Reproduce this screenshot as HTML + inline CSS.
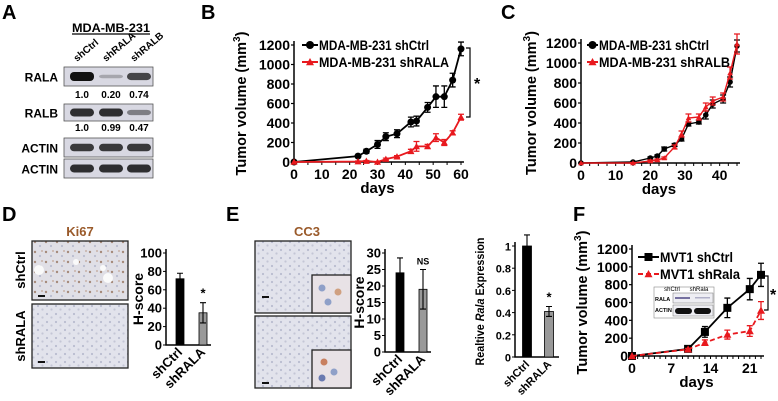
<!DOCTYPE html>
<html><head><meta charset="utf-8"><style>
body{margin:0;background:#fff}
svg{display:block;font-family:"Liberation Sans",Arial,sans-serif}
</style></head><body>
<svg id="fig" width="778" height="401" viewBox="0 0 778 401" xmlns="http://www.w3.org/2000/svg">
<defs>
<pattern id="tissue" width="9" height="8" patternUnits="userSpaceOnUse">
<rect width="9" height="8" fill="#e2e3ec"/><circle cx="2" cy="2" r="1.1" fill="#b9bccf"/><circle cx="6.5" cy="5.5" r="1.1" fill="#c4c6d6"/>
</pattern>
<pattern id="tissueK" width="11" height="10" patternUnits="userSpaceOnUse">
<rect width="11" height="10" fill="#e0dfe6"/><circle cx="2" cy="2" r="1.2" fill="#a58a7a"/><circle cx="7" cy="6" r="1.1" fill="#b9bccf"/><circle cx="9" cy="1" r="0.9" fill="#c0a494"/>
</pattern>
</defs>
<g id="root"></g>
</svg>
<script>
// ---- Panel B data ----
const bDays = [0,23,26,30,33,37,42,44,48,51,54,57,60];
const bCtrl = [0,60,110,180,260,290,410,420,560,670,670,840,1160];
const bCtrlErr = [0,10,20,40,40,40,50,50,50,110,110,70,70];
const bRala = [0,5,10,0,30,55,110,160,160,250,200,300,460];
const bRalaErr = [0,5,5,5,10,10,20,50,20,40,30,20,30];
// ---- Panel C data ----
const cDays = [0,15,20,22,24,27,29,31,34,36,38,41,43,45];
const cCtrl = [0,10,50,70,140,180,240,390,410,480,590,640,810,1170];
const cCtrlErr = [0,5,10,10,20,15,20,20,20,40,40,40,50,60];
const cRalb = [0,0,20,30,50,160,290,450,460,560,620,660,900,1190];
const cRalbErr = [0,5,10,10,10,20,30,40,30,40,40,40,60,100];
// ---- Panel F line data ----
const fDays = [0,10,13,17,21,23];
const fCtrl = [0,80,270,540,750,910];
const fCtrlErr = [0,10,60,110,120,130];
const fRala = [0,75,150,240,280,510];
const fRalaErr = [0,10,30,50,60,100];
// ---- Bar data ----
const barCats = ["shCtrl","shRALA"];
const dVals = [72,35]; const dErr = [6,11];
const eVals = [24,19]; const eErr = [4.5,6];
const fVals = [1.0,0.41]; const fErr = [0.1,0.045];
const volTicks = [0,200,400,600,800,1000,1200];

const NS="http://www.w3.org/2000/svg";
const root=document.getElementById('root');
function el(tag,attrs,parent,text){const e=document.createElementNS(NS,tag);for(const k in attrs)e.setAttribute(k,attrs[k]);if(text!==undefined)e.textContent=text;(parent||root).appendChild(e);return e;}
function grp(name){const g=el('g',{});return g;}
function txt(g,x,y,s,size,opts){opts=opts||{};const a={x:x,y:y,'font-size':size,'font-weight':opts.w||'bold','text-anchor':opts.a||'start',fill:opts.fill||'#000'};
  if(opts.tr)a.transform=opts.tr;if(opts.len){a.textLength=opts.len;a.lengthAdjust='spacingAndGlyphs';}
  return el('text',a,g,s);}

function label(s,x,y){const g=grp('panel-label-'+s.toLowerCase());txt(g,x,y,s,20);}
label('A',2,19);label('B',201,19);label('C',501,19);label('D',2,221);label('E',226,221);label('F',573,221);

// ---------- Line chart helper ----------
function lineChart(name,o){
  const g=grp(name);
  const sx=v=>o.x0+(v-o.xmin)/(o.xmax-o.xmin)*(o.x1-o.x0);
  const sy=v=>o.y0-(v)/(o.ymax)*(o.y0-o.y1);
  const ax=el('path',{d:`M${o.x0} ${o.y1-4} V${o.y0} H${o.x1+3}`,stroke:'#000','stroke-width':1.5,fill:'none'},g);
  
  o.yt.forEach(v=>{el('line',{x1:o.x0-3,x2:o.x0,y1:sy(v),y2:sy(v),stroke:'#000','stroke-width':1.2},g);
    const t=txt(g,o.x0-4,sy(v)+5,String(v),o.fs||14,{a:'end'});});
  for(let v=o.xmin;v<=o.xmax+0.01;v+=o.minor){el('line',{x1:sx(v),x2:sx(v),y1:o.y0,y2:o.y0+3,stroke:'#000','stroke-width':1},g);}
  o.xt.forEach(v=>{const t=txt(g,sx(v),o.y0+17,String(v),o.fs||14,{a:'middle'});});
  const xl=txt(g,(o.x0+o.x1)/2,o.y0+31,'days',15,{a:'middle'});
  const yl=el('text',{x:0,y:0,'font-size':14.5,'font-weight':'bold','text-anchor':'middle',transform:`translate(${o.ylx},${(o.y0+o.y1)/2}) rotate(-90)`},g);
  yl.appendChild(document.createTextNode('Tumor volume (mm'));el('tspan',{'font-size':10,dy:-6},yl,'3');el('tspan',{dy:6},yl,')');
  
  o.series.forEach(s=>{
    const sg=el('g',{},g);
    s.ys.forEach((v,i)=>{const x=sx(o.xs[i]);const e=s.err[i];if(e>0){el('path',{d:`M${x} ${sy(v-e)} V${sy(v+e)} M${x-3} ${sy(v+e)} H${x+3} M${x-3} ${sy(v-e)} H${x+3}`,stroke:s.c,'stroke-width':1.3,fill:'none'},sg);}});
    el('polyline',{points:s.ys.map((v,i)=>sx(o.xs[i])+','+sy(v)).join(' '),fill:'none',stroke:s.c,'stroke-width':s.lw||1.8,'stroke-dasharray':s.dash||''},sg);
    s.ys.forEach((v,i)=>{const m=marker(sg,s.m,sx(o.xs[i]),sy(v),s.c,s.ms);});
  });
  return {g,sx,sy};
}
function marker(g,type,x,y,c,r){r=r||3.5;
  if(type==='circle')return el('circle',{cx:x,cy:y,r:r,fill:c},g);
  if(type==='square')return el('rect',{x:x-r,y:y-r,width:2*r,height:2*r,fill:c},g);
  return el('path',{d:`M${x} ${y-r} L${x+r} ${y+r*0.8} L${x-r} ${y+r*0.8}Z`,fill:c},g);}
function legend(g,x,y,type,c,s,dash,len,lw){lw=lw||22;const lg=el('g',{},g);
  el('line',{x1:x,x2:x+lw,y1:y,y2:y,stroke:c,'stroke-width':2,'stroke-dasharray':dash||''},lg);marker(lg,type,x+lw/2,y,c,4);txt(lg,x+lw+1,y+5,s,14,{len:len});}

// B
const B=lineChart('chart-b',{x0:294,x1:461,y0:162,y1:45,xmin:0,xmax:60,ymax:1200,yt:volTicks,xt:[0,10,20,30,40,50,60],minor:5,ylx:246,
  xs:bDays,series:[{name:'series-shctrl',ys:bCtrl,err:bCtrlErr,c:'#000',m:'circle'},{name:'series-shrala',ys:bRala,err:bRalaErr,c:'#e8191e',m:'tri'}]});
legend(B.g,302,45,'circle','#000','MDA-MB-231 shCtrl','',110,16);legend(B.g,302,62,'tri','#e8191e','MDA-MB-231 shRALA','',130,16);
el('path',{d:'M466 48 H470 V117 H466',stroke:'#000','stroke-width':1.2,fill:'none'},B.g);txt(B.g,474,89,'*',16);
// C
const C=lineChart('chart-c',{x0:581,x1:737,y0:163,y1:43,xmin:0,xmax:45,ymax:1200,yt:volTicks,xt:[0,10,20,30,40],minor:2.5,ylx:536,
  xs:cDays,series:[{name:'series-shctrl',ys:cCtrl,err:cCtrlErr,c:'#000',m:'circle',ms:2.8,lw:1.4},{name:'series-shralb',ys:cRalb,err:cRalbErr,c:'#e8191e',m:'tri',ms:2.8,lw:1.4}]});
legend(C.g,587,45,'circle','#000','MDA-MB-231 shCtrl','',110,11);legend(C.g,587,62,'tri','#e8191e','MDA-MB-231 shRALB','',131,11);
// F line
const F=lineChart('chart-f-volume',{x0:632,x1:761,y0:356,y1:249,xmin:0,xmax:23,ymax:1200,yt:volTicks,xt:[0,7,14,21],minor:1,ylx:587,fs:14,
  xs:fDays,series:[{name:'series-mvt1-shctrl',ys:fCtrl,err:fCtrlErr,c:'#000',m:'square',ms:4},{name:'series-mvt1-shrala',ys:fRala,err:fRalaErr,c:'#e8191e',m:'tri',ms:4,dash:'5,3'}]});
legend(F.g,638,257,'square','#000','MVT1 shCtrl','',73,21);legend(F.g,638,274,'tri','#e8191e','MVT1 shRala','5,3',80,21);
el('path',{d:'M764 276 H768 V310 H764',stroke:'#000','stroke-width':1.2,fill:'none'},F.g);txt(F.g,770,300,'*',16);
// inset blot in F
(function(){const g=grp('inset-blot-f');el('rect',{x:654,y:287,width:60,height:31,fill:'#fff',stroke:'#888','stroke-width':0.6},g);
  txt(g,672,291,'shCtrl',6,{a:'middle',w:'normal'});txt(g,699,291,'shRala',6,{a:'middle',w:'normal'});
  txt(g,655,301,'RALA',5.5,{a:'start'});txt(g,655,312,'ACTIN',5.5,{a:'start'});
  el('rect',{x:673,y:293,width:40,height:10,fill:'#eeeef3',stroke:'#777','stroke-width':0.5},g);
  el('rect',{x:675,y:297,width:15,height:2,fill:'#7570a0'},g);el('rect',{x:695,y:297,width:15,height:1.5,fill:'#b0b0c8'},g);
  el('rect',{x:673,y:305,width:40,height:11,fill:'#eeeef3',stroke:'#777','stroke-width':0.5},g);
  el('rect',{x:675,y:308,width:17,height:6,rx:3,fill:'#111'},g);el('rect',{x:694,y:308,width:17,height:6,rx:3,fill:'#111'},g);})();

// ---------- Bar chart helper ----------
function barChart(name,o){
  const g=grp(name);const sy=v=>o.y0-v/o.ymax*(o.y0-o.y1);
  el('path',{d:`M${o.x0} ${o.y1-4} V${o.y0} H${o.x0+o.w}`,stroke:'#000','stroke-width':1.5,fill:'none'},g);
  o.yt.forEach(v=>{el('line',{x1:o.x0-3,x2:o.x0,y1:sy(v),y2:sy(v),stroke:'#000'},g);const t=txt(g,o.x0-4,sy(v)+4.5,String(v),o.fs||13,{a:'end'});});
  o.vals.forEach((v,i)=>{const cx=o.x0+o.cx[i];const e=o.err[i];
    const b=el('rect',{x:cx-o.bw/2,y:sy(v),width:o.bw,height:o.y0-sy(v),fill:i?'#999':'#000',stroke:'#000','stroke-width':0.8},g);
    
    el('path',{d:`M${cx} ${sy(v)} V${sy(v+e)} M${cx-3} ${sy(v+e)} H${cx+3}`+(i?` M${cx} ${sy(v)} V${sy(v-e)} M${cx-3} ${sy(v-e)} H${cx+3}`:''),stroke:'#000','stroke-width':1.1,fill:'none'},g);
    const t=txt(g,cx+3,o.y0+8,barCats[i],o.lfs||13,{a:'end',tr:`rotate(-45 ${cx+3} ${o.y0+8})`});
    if(o.marks&&o.marks[i]){txt(g,cx,sy(v+e)-5,o.marks[i],o.marks[i]==='*'?13:9,{a:'middle'});}
  });
  const ya={'font-size':o.tfs||14,'font-weight':'bold','text-anchor':'middle',transform:`translate(${o.ylx},${(o.y0+o.y1)/2}) rotate(-90)`};
  if(o.tlen){ya.textLength=o.tlen;ya.lengthAdjust='spacingAndGlyphs';}
  const yl=el('text',ya,g);
  (o.title||['H-score']).forEach(p=>el('tspan',p.i?{'font-style':'italic'}:{},yl,p.t||p));
  
}
barChart('chart-d-hscore',{x0:166,y0:345,y1:253,ymax:100,yt:[0,20,40,60,80,100],vals:dVals,err:dErr,cx:[14,37],bw:8,w:45,ylx:143,marks:['','*']});
barChart('chart-e-hscore',{x0:385,y0:352,y1:253,ymax:30,yt:[0,5,10,15,20,25,30],vals:eVals,err:eErr,cx:[15,38],bw:8,w:46,ylx:364,marks:['','NS']});
barChart('chart-f-expression',{x0:515,y0:357,y1:246,ymax:1,yt:[0,0.2,0.4,0.6,0.8,1],vals:fVals,err:fErr,cx:[12,34],bw:9,w:44,ylx:484,fs:11,lfs:11,tfs:12,tlen:128,marks:['','*'],
  title:['Realtive ',{t:'Rala',i:true},' Expression']});

// ---------- Panel A western blot ----------
(function(){const g=grp('western-blot-a');
  txt(g,111,32,'MDA-MB-231',12,{a:'middle',len:78});el('line',{x1:72,x2:150,y1:34,y2:34,stroke:'#000','stroke-width':1.2},g);
  const lanes=['shCtrl','shRALA','shRALB'];const lx=[82,111,139];
  lanes.forEach((s,i)=>txt(g,lx[i]-5,62,s,10,{tr:`rotate(-40 ${lx[i]-5} 62)`}));
  const rows=[{n:'RALA',y:67,h:19,d:[1,0.2,0.74]},{n:'RALB',y:104,h:17,d:[0.85,0.85,0.45]},{n:'ACTIN',y:138,h:19,d:[0.8,0.8,0.8]},{n:'ACTIN',y:159,h:19,d:[0.85,0.85,0.85]}];
  rows.forEach(r=>{const rg=el('g',{},g);
    el('rect',{x:64,y:r.y,width:89,height:r.h,fill:'#d8d8e2',stroke:'#555','stroke-width':0.8},rg);
    txt(rg,58,r.y+r.h/2+5,r.n,12,{a:'end'});
    r.d.forEach((d,i)=>{el('rect',{x:lx[i]-12,y:r.y+r.h/2-3.5*d-1,width:24,height:7*d+2,rx:4,fill:'#111','fill-opacity':Math.max(0.25,d)},rg);});});
  [['1.0','0.20','0.74',98],['1.0','0.99','0.47',131]].forEach(a=>{for(let i=0;i<3;i++)txt(g,lx[i],a[3],a[i],10,{a:'middle'});});
})();

// ---------- IHC images ----------
(function(){const g=grp('ihc-d');
  txt(g,80,236,'Ki67',13,{a:'middle',fill:'#9a5a2a'});
  el('rect',{x:32,y:241,width:96,height:59,fill:'url(#tissueK)',stroke:'#222','stroke-width':1.3},g);
  el('rect',{x:32,y:304,width:96,height:64,fill:'url(#tissue)',stroke:'#222','stroke-width':1.3},g);
  [[39,270,5],[76,262,3],[103,268,3],[108,278,5]].forEach(c=>el('circle',{cx:c[0],cy:c[1],r:c[2],fill:'#fafafa'},g));
  el('rect',{x:38,y:295,width:7,height:2,fill:'#111'},g);el('rect',{x:38,y:361,width:7,height:2,fill:'#111'},g);
  txt(g,0,0,'shCtrl',13,{a:'middle',tr:'translate(25,270) rotate(-90)'});txt(g,0,0,'shRALA',13,{a:'middle',tr:'translate(25,336) rotate(-90)'});
  const g2=grp('ihc-e');
  txt(g2,307,236,'CC3',13,{a:'middle',fill:'#9a5a2a'});
  el('rect',{x:255,y:241,width:96,height:72,fill:'url(#tissue)',stroke:'#222','stroke-width':1.3},g2);
  el('rect',{x:255,y:316,width:96,height:72,fill:'url(#tissue)',stroke:'#222','stroke-width':1.3},g2);
  el('rect',{x:312,y:275,width:39,height:38,fill:'#e8e2e6',stroke:'#222','stroke-width':1.3},g2);
  el('rect',{x:312,y:350,width:39,height:38,fill:'#e8e2e6',stroke:'#222','stroke-width':1.3},g2);
  [[322,288,'#8fa0c8'],[338,292,'#d0a080'],[328,302,'#8fa0c8'],[324,362,'#c88060'],[334,372,'#8fa0c8'],[322,378,'#6a7ab0']].forEach(c=>el('circle',{cx:c[0],cy:c[1],r:3.5,fill:c[2]},g2));
  el('rect',{x:262,y:296,width:7,height:2,fill:'#111'},g2);el('rect',{x:262,y:382,width:7,height:2,fill:'#111'},g2);
})();
</script>
</body></html>
